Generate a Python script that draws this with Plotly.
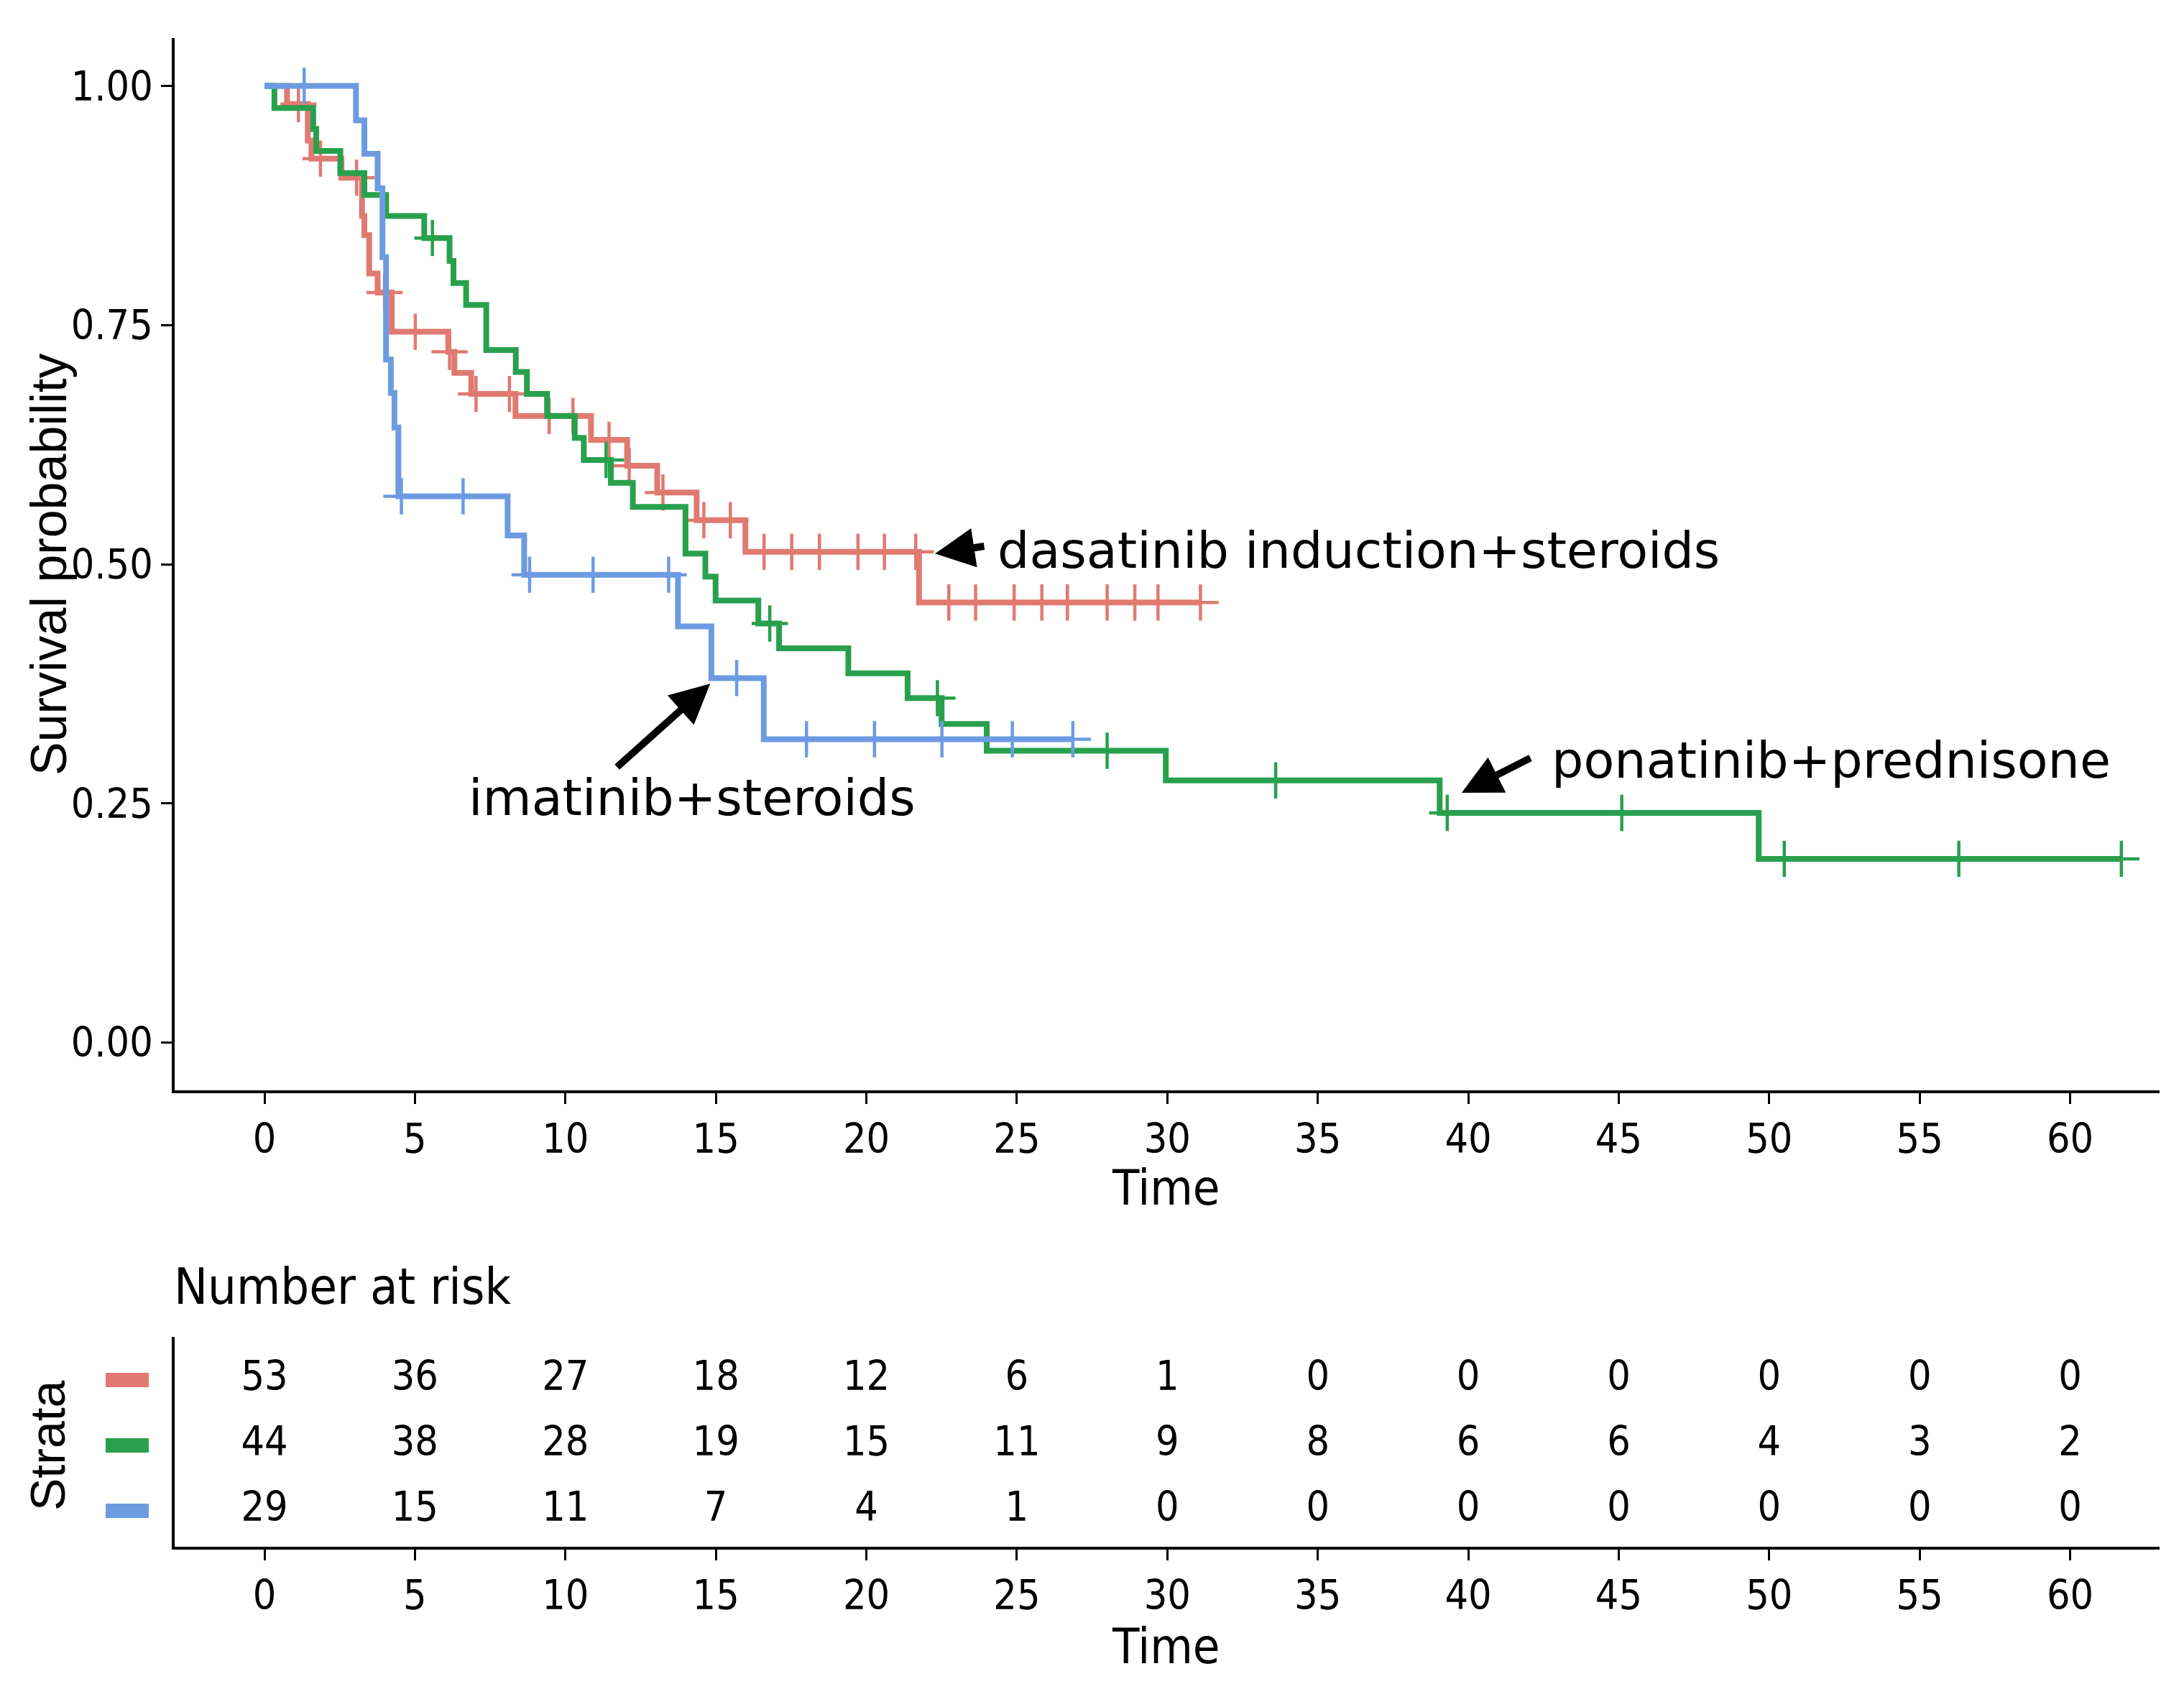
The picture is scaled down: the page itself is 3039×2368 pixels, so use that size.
import plotly.graph_objects as go
from bisect import bisect_right

# ---- Kaplan-Meier curves (time in months, survival) ----
red_name = "dasatinib induction+steroids"
red_event_t = [0.75, 1.44, 1.56, 2.56, 3.24, 3.32, 3.48, 3.76, 4.23, 6.11, 6.31,
               6.87, 8.34, 10.85, 12.05, 13.05, 14.36, 15.98, 21.75]
red_surv = [0.981, 0.943, 0.924, 0.904, 0.864, 0.844, 0.804, 0.784, 0.743, 0.722, 0.700,
            0.678, 0.655, 0.630, 0.603, 0.575, 0.546, 0.513, 0.460]
red_censor = [1.13, 1.86, 3.06, 3.99, 5.01, 6.15, 7.03, 8.14, 9.46, 10.25, 11.45, 12.12,
              13.24, 14.6, 15.48, 16.6, 17.52, 18.44, 19.72, 20.6, 21.64, 22.74, 23.63,
              24.91, 25.83, 26.68, 28.0, 28.92, 29.69, 31.1]

green_name = "ponatinib+prednisone"
green_event_t = [0.33, 1.62, 1.72, 2.52, 3.32, 4.04, 5.31, 6.15, 6.28, 6.70, 7.37, 8.35,
                 8.72, 9.39, 10.31, 10.61, 11.51, 12.24, 13.99, 14.65, 14.99, 16.41,
                 17.10, 19.40, 21.37, 22.50, 24.00, 29.95, 39.05, 49.65]
green_surv = [0.977, 0.955, 0.932, 0.909, 0.886, 0.864, 0.841, 0.817, 0.794, 0.771, 0.724,
              0.701, 0.678, 0.655, 0.632, 0.609, 0.585, 0.560, 0.511, 0.487, 0.462, 0.438,
              0.412, 0.386, 0.360, 0.333, 0.305, 0.274, 0.240, 0.192]
green_censor = [5.58, 11.35, 16.79, 22.36, 28.0, 33.6, 39.3, 45.1, 50.5, 56.3, 61.7]

blue_name = "imatinib+steroids"
blue_event_t = [3.04, 3.32, 3.76, 3.92, 4.04, 4.20, 4.32, 4.45, 8.08, 8.63, 13.74, 14.85, 16.59]
blue_surv = [0.964, 0.929, 0.893, 0.821, 0.714, 0.679, 0.643, 0.571, 0.530, 0.489, 0.435,
             0.381, 0.317]
blue_censor = [1.32, 4.55, 6.6, 8.81, 10.92, 13.43, 15.69, 18.01, 20.27, 22.51, 24.85, 26.86]

# ---- number at risk table ----
risk_times = [0, 5, 10, 15, 20, 25, 30, 35, 40, 45, 50, 55, 60]
red_risk = [53, 36, 27, 18, 12, 6, 1, 0, 0, 0, 0, 0, 0]
green_risk = [44, 38, 28, 19, 15, 11, 9, 8, 6, 6, 4, 3, 2]
blue_risk = [29, 15, 11, 7, 4, 1, 0, 0, 0, 0, 0, 0, 0]

RED = "#E07A71"
GREEN = "#28A04C"
BLUE = "#6C9BE2"

NARROW = "DejaVu Sans Condensed, DejaVu Sans, sans-serif"
REG = "Liberation Sans, Arial, sans-serif"
ANN = "DejaVu Sans, sans-serif"

W, H = 3023, 2352  # page keeps the default 8px body margin


def fx(px):
    return (px - 8) / W


def fy(py):
    return 1 - (py - 8) / H


def surv_at(t, ev_t, ev_s):
    i = bisect_right(ev_t, t)
    return 1.0 if i == 0 else ev_s[i - 1]


fig = go.Figure()

groups = [
    (red_name, red_event_t, red_surv, red_censor, RED),
    (green_name, green_event_t, green_surv, green_censor, GREEN),
    (blue_name, blue_event_t, blue_surv, blue_censor, BLUE),
]

for name, ev_t, ev_s, cens, col in groups:
    end_t = max(cens[-1], ev_t[-1])
    xs = [0] + ev_t + [end_t]
    ys = [1.0] + ev_s + [ev_s[-1]]
    fig.add_trace(go.Scatter(x=xs, y=ys, mode="lines", line=dict(color=col, width=8, shape="hv"),
                             name=name, showlegend=False, xaxis="x", yaxis="y"))
    fig.add_trace(go.Scatter(x=cens, y=[surv_at(c, ev_t, ev_s) for c in cens], mode="markers",
                             marker=dict(symbol="cross-thin", size=36, line=dict(color=col, width=4.5)),
                             showlegend=False, xaxis="x", yaxis="y"))

# risk table text
for row, risk in [(3, red_risk), (2, green_risk), (1, blue_risk)]:
    fig.add_trace(go.Scatter(x=risk_times, y=[row] * len(risk_times), mode="text",
                             text=[str(v) for v in risk],
                             textfont=dict(family=NARROW, size=57, color="black"),
                             showlegend=False, xaxis="x2", yaxis="y2"))

axis_common = dict(showline=True, linecolor="black", linewidth=3.5, showgrid=False, zeroline=False,
                   ticks="outside", ticklen=15, tickwidth=3, tickcolor="black",
                   tickfont=dict(family=NARROW, size=57, color="black"))

fig.update_layout(
    width=W, height=H, autosize=False,
    margin=dict(l=0, r=0, t=0, b=0),
    paper_bgcolor="white", plot_bgcolor="white",
    xaxis=dict(domain=[fx(243), fx(3005)], range=[-2.985, 62.97], tickvals=risk_times,
               anchor="y", **axis_common),
    yaxis=dict(domain=[fy(1517), fy(53)], range=[-0.05, 1.05], tickvals=[0, 0.25, 0.5, 0.75, 1.0],
               tickformat=".2f", anchor="x", **axis_common),
    xaxis2=dict(domain=[fx(243), fx(3005)], range=[-2.985, 62.97], tickvals=risk_times,
                anchor="y2", **axis_common),
    yaxis2=dict(domain=[fy(2152), fy(1860)], range=[0.451, 3.659], showline=True, linecolor="black",
                linewidth=3.5, showgrid=False, zeroline=False, showticklabels=False, ticks="",
                anchor="x2"),
)

# legend keys for the strata
for row, col in [(3, RED), (2, GREEN), (1, BLUE)]:
    fig.add_shape(type="rect", xref="paper", yref="y2", x0=fx(147), x1=fx(207),
                  y0=row - 0.11, y1=row + 0.11, fillcolor=col, line=dict(width=0))

annotations = [
    dict(text="Survival probability", x=fx(68), y=fy(786), xref="paper", yref="paper",
         xanchor="center", yanchor="middle", textangle=-90, showarrow=False,
         font=dict(family=REG, size=70, color="black")),
    dict(text="Time", x=fx(1622), y=fy(1652), xref="paper", yref="paper",
         xanchor="center", yanchor="middle", showarrow=False,
         font=dict(family=NARROW, size=68, color="black")),
    dict(text="Number at risk", x=fx(240), y=fy(1790), xref="paper", yref="paper",
         xanchor="left", yanchor="middle", showarrow=False,
         font=dict(family=NARROW, size=70, color="black")),
    dict(text="Strata", x=fx(66), y=2, xref="paper", yref="y2", xanchor="center", yanchor="middle",
         textangle=-90, showarrow=False, font=dict(family=REG, size=68, color="black")),
    dict(text="Time", x=fx(1622), y=fy(2290), xref="paper", yref="paper",
         xanchor="center", yanchor="middle", showarrow=False,
         font=dict(family=NARROW, size=68, color="black")),
    # curve labels
    dict(text=red_name, x=24.3, y=0.514, xref="x", yref="y", xanchor="left", yanchor="middle",
         showarrow=False, font=dict(family=ANN, size=70, color="black")),
    dict(text=blue_name, x=6.73, y=0.256, xref="x", yref="y", xanchor="left", yanchor="middle",
         showarrow=False, font=dict(family=ANN, size=70, color="black")),
    dict(text=green_name, x=42.73, y=0.295, xref="x", yref="y", xanchor="left", yanchor="middle",
         showarrow=False, font=dict(family=ANN, size=70, color="black")),
]

# arrows (head at x,y ; tail at ax,ay)
for hx, hy, tx, ty in [(22.28, 0.511, 23.95, 0.519), (14.81, 0.375, 11.68, 0.287),
                       (39.78, 0.261, 42.1, 0.298)]:
    annotations.append(dict(text="", x=hx, y=hy, ax=tx, ay=ty, xref="x", yref="y", axref="x",
                            ayref="y", showarrow=True, arrowhead=2, arrowsize=1.1, arrowwidth=10,
                            arrowcolor="black", standoff=0, startstandoff=0))

fig.update_layout(annotations=annotations)

fig.write_html("out.html")
